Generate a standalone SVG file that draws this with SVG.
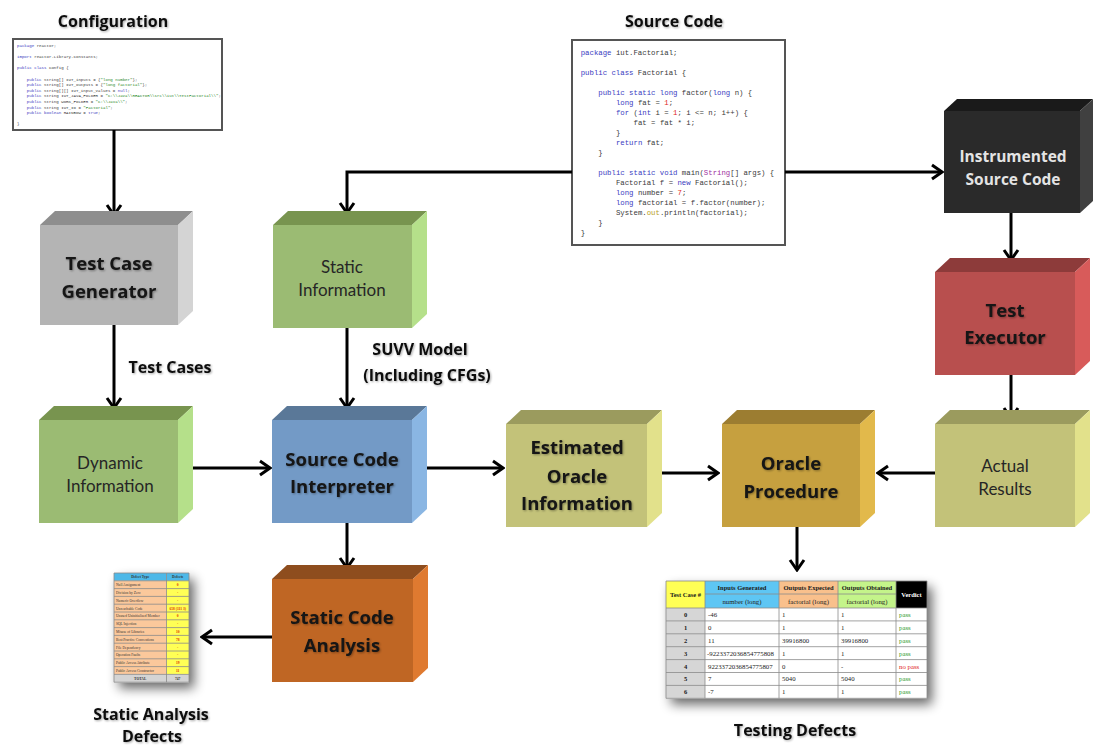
<svg xmlns="http://www.w3.org/2000/svg" width="1093" height="746" viewBox="0 0 1093 746">
  <style>
    .lbl{font-family:"Open Sans","Liberation Sans",sans-serif;font-weight:700;font-size:18.5px;fill:#141414;text-anchor:middle}
    .lblr{font-family:Lato,"Open Sans","Liberation Sans",sans-serif;font-weight:400;font-size:17px;fill:#262626;text-anchor:middle}
    .ttl{font-family:"Open Sans","Liberation Sans",sans-serif;font-weight:700;font-size:16px;fill:#111;text-anchor:middle}
    .edge{fill:none;stroke:#000;stroke-width:3;marker-end:url(#arr)}
    .codebox{fill:#fff;stroke:#555;stroke-width:2}
    .code{font-family:"Liberation Mono",monospace;font-size:7.33px;fill:#3a3a3a}
    .cfg{font-family:"Liberation Mono",monospace;font-size:4.1px;fill:#3a3a3a}
    .kw{fill:#3b3bbf}
    .num{fill:#e0281e}
    .str{fill:#2a8a2a}
    .typ{fill:#a030a0}
    .fld{fill:#b8a020}
    .gray .f{fill:#b4b4b4}.gray .t{fill:#8e8e8e}.gray .s{fill:#d4d4d4}
    .green .f{fill:#9bbb73}.green .t{fill:#78944f}.green .s{fill:#b5e08a}
    .blue .f{fill:#739ac6}.blue .t{fill:#5a7898}.blue .s{fill:#8ab6e3}
    .olive .f{fill:#c3c279}.olive .t{fill:#9b9b5e}.olive .s{fill:#e2e18b}
    .gold .f{fill:#c6a03f}.gold .t{fill:#9c7d31}.gold .s{fill:#e2b94b}
    .red .f{fill:#b84f4e}.red .t{fill:#8d3b3a}.red .s{fill:#d85b5a}
    .orange .f{fill:#bf6624}.orange .t{fill:#8e4d1e}.orange .s{fill:#df7a30}
    .black .f{fill:#2a2a2a}.black .t{fill:#1a1a1a}.black .s{fill:#404040}
    .tb{font-family:"Liberation Serif",serif;font-size:6.8px;fill:#222}
    .tbh{font-family:"Liberation Serif",serif;font-size:6.5px;font-weight:700;fill:#1a1a1a;text-anchor:middle}
    .grid{stroke:#8a8a8a;stroke-width:0.8;fill:none}
    .sa{font-family:"Liberation Serif",serif;font-size:3.6px;fill:#333}
    .sav{font-family:"Liberation Serif",serif;font-size:3.6px;fill:#e03000;text-anchor:middle;font-weight:700}
    .pass{fill:#2a9a2a}
    .nopass{fill:#e02020}
  </style>
  <defs>
    <marker id="arr" viewBox="-13 -9 15 18" markerWidth="15" markerHeight="18" refX="0" refY="0" orient="auto" markerUnits="userSpaceOnUse">
      <path d="M-10,-7 L0,0 L-10,7" fill="none" stroke="#000" stroke-width="3"/>
    </marker>
    <!-- soft text shadow for bold captions -->
    <filter id="tshadow" x="-10%" y="-30%" width="120%" height="160%">
      <feGaussianBlur in="SourceAlpha" stdDeviation="1.2"/>
      <feOffset dx="1" dy="1"/>
      <feComponentTransfer><feFuncA type="linear" slope="0.35"/></feComponentTransfer>
      <feMerge><feMergeNode/><feMergeNode in="SourceGraphic"/></feMerge>
    </filter>
    <filter id="shadow" x="-40%" y="-25%" width="190%" height="160%">
      <feGaussianBlur in="SourceAlpha" stdDeviation="6"/>
      <feOffset dx="5" dy="6"/>
      <feComponentTransfer><feFuncA type="linear" slope="0.6"/></feComponentTransfer>
      <feMerge><feMergeNode/><feMergeNode in="SourceGraphic"/></feMerge>
    </filter>
  </defs>

  <rect width="1093" height="746" fill="#fff"/>

  <!-- configuration source -->
  <g id="configuration">
    <text class="ttl" x="113" y="27" filter="url(#tshadow)">Configuration</text>
    <rect class="codebox" x="13" y="39" width="209" height="91"/>
    <text class="cfg" x="17" y="47"><tspan class="kw">package</tspan> reactor;</text>
    <text class="cfg" x="17" y="58.2"><tspan class="kw">import</tspan> reactor.Library.Constants;</text>
    <text class="cfg" x="17" y="69.4"><tspan class="kw">public class</tspan> Config {</text>
    <text class="cfg" x="26.8" y="80.6"><tspan class="kw">public</tspan> String[] IUT_inputs = {<tspan class="str">"long number"</tspan>};</text>
    <text class="cfg" x="26.8" y="86.2"><tspan class="kw">public</tspan> String[] IUT_outputs = {<tspan class="str">"long factorial"</tspan>};</text>
    <text class="cfg" x="26.8" y="91.8"><tspan class="kw">public</tspan> String[][] IUT_input_values = <tspan class="kw">null</tspan>;</text>
    <text class="cfg" x="26.8" y="97.4"><tspan class="kw">public</tspan> String IUT_JAVA_FOLDER = <tspan class="str">"C:\\Java\\REACTOR\\src\\iut\\TestFactorial\\"</tspan>;</text>
    <text class="cfg" x="26.8" y="103"><tspan class="kw">public</tspan> String WORK_FOLDER = <tspan class="str">"C:\\Java\\"</tspan>;</text>
    <text class="cfg" x="26.8" y="108.6"><tspan class="kw">public</tspan> String IUT_ID = <tspan class="str">"Factorial"</tspan>;</text>
    <text class="cfg" x="26.8" y="114.2"><tspan class="kw">public boolean</tspan> RAINBOW = <tspan class="kw">true</tspan>;</text>
    <text class="cfg" x="17" y="125.4">}</text>
  </g>

  <!-- program under test -->
  <g id="source-code">
    <text class="ttl" x="674" y="27" filter="url(#tshadow)">Source Code</text>
    <rect class="codebox" x="572" y="40" width="213" height="205"/>
    <text class="code" x="580.7" y="54.5"><tspan class="kw">package</tspan> iut.Factorial;</text>
    <text class="code" x="580.7" y="74.5"><tspan class="kw">public class</tspan> Factorial {</text>
    <text class="code" x="598.3" y="94.5"><tspan class="kw">public static long</tspan> factor(<tspan class="kw">long</tspan> n) {</text>
    <text class="code" x="615.9" y="104.5"><tspan class="kw">long</tspan> fat = <tspan class="num">1</tspan>;</text>
    <text class="code" x="615.9" y="114.5"><tspan class="kw">for</tspan> (<tspan class="kw">int</tspan> i = <tspan class="num">1</tspan>; i &lt;= n; i++) {</text>
    <text class="code" x="633.5" y="124.5">fat = fat * i;</text>
    <text class="code" x="615.9" y="134.5">}</text>
    <text class="code" x="615.9" y="144.5"><tspan class="kw">return</tspan> fat;</text>
    <text class="code" x="598.3" y="154.5">}</text>
    <text class="code" x="598.3" y="174.5"><tspan class="kw">public static void</tspan> main(<tspan class="typ">String</tspan>[] args) {</text>
    <text class="code" x="615.9" y="184.5">Factorial f = <tspan class="kw">new</tspan> Factorial();</text>
    <text class="code" x="615.9" y="194.5"><tspan class="kw">long</tspan> number = <tspan class="num">7</tspan>;</text>
    <text class="code" x="615.9" y="204.5"><tspan class="kw">long</tspan> factorial = f.factor(number);</text>
    <text class="code" x="615.9" y="214.5">System.<tspan class="fld">out</tspan>.println(factorial);</text>
    <text class="code" x="598.3" y="224.5">}</text>
    <text class="code" x="580.7" y="234.5">}</text>
  </g>

  <!-- connectors -->
  <g id="connectors">
    <path class="edge" d="M114,130 V215"/>
    <path class="edge" d="M114,325 V408"/>
    <path class="edge" d="M572,172 H347 V213"/>
    <path class="edge" d="M785,172 H942"/>
    <path class="edge" d="M347,328 V408"/>
    <path class="edge" d="M190,468 H270"/>
    <path class="edge" d="M424,468 H503"/>
    <path class="edge" d="M657,473 H718"/>
    <path class="edge" d="M935,473 H878"/>
    <path class="edge" d="M1011,213 V260"/>
    <path class="edge" d="M1011,375 V418"/>
    <path class="edge" d="M347,523 V568"/>
    <path class="edge" d="M272,637 H202"/>
    <path class="edge" d="M797,527 V570"/>
    <text class="ttl" x="170" y="373" filter="url(#tshadow)">Test Cases</text>
    <text class="ttl" x="420" y="355" filter="url(#tshadow)">SUVV Model</text>
    <text class="ttl" x="427" y="381" filter="url(#tshadow)">(Including CFGs)</text>
  </g>

  <g id="test-case-generator" class="gray">
    <polygon class="t" points="40,225 55,211 193,211 178,225"/>
    <polygon class="s" points="178,225 193,211 193,311 178,325"/>
    <rect class="f" x="40" y="225" width="138" height="100"/>
    <text class="lbl" x="109" y="270" filter="url(#tshadow)">Test Case</text>
    <text class="lbl" x="109" y="298" filter="url(#tshadow)">Generator</text>
  </g>

  <g id="static-information" class="green">
    <polygon class="t" points="273,225 288,211 427,211 412,225"/>
    <polygon class="s" points="412,225 427,211 427,314 412,328"/>
    <rect class="f" x="273" y="225" width="139" height="103"/>
    <text class="lblr" x="342" y="273">Static</text>
    <text class="lblr" x="342" y="296">Information</text>
  </g>

  <g id="dynamic-information" class="green">
    <polygon class="t" points="39,420 54,406 193,406 178,420"/>
    <polygon class="s" points="178,420 193,406 193,509 178,523"/>
    <rect class="f" x="39" y="420" width="139" height="103"/>
    <text class="lblr" x="110" y="469">Dynamic</text>
    <text class="lblr" x="110" y="492">Information</text>
  </g>

  <g id="source-code-interpreter" class="blue">
    <polygon class="t" points="272,420 287,406 427,406 412,420"/>
    <polygon class="s" points="412,420 427,406 427,509 412,523"/>
    <rect class="f" x="272" y="420" width="140" height="103"/>
    <text class="lbl" x="342" y="466" filter="url(#tshadow)">Source Code</text>
    <text class="lbl" x="342" y="493" filter="url(#tshadow)">Interpreter</text>
  </g>

  <g id="estimated-oracle-information" class="olive">
    <polygon class="t" points="506,424 521,410 662,410 647,424"/>
    <polygon class="s" points="647,424 662,410 662,513 647,527"/>
    <rect class="f" x="506" y="424" width="141" height="103"/>
    <text class="lbl" x="577" y="454" filter="url(#tshadow)">Estimated</text>
    <text class="lbl" x="577" y="483" filter="url(#tshadow)">Oracle</text>
    <text class="lbl" x="577" y="510" filter="url(#tshadow)">Information</text>
  </g>

  <g id="oracle-procedure" class="gold">
    <polygon class="t" points="722,424 737,410 875,410 860,424"/>
    <polygon class="s" points="860,424 875,410 875,513 860,527"/>
    <rect class="f" x="722" y="424" width="138" height="103"/>
    <text class="lbl" x="791" y="470" filter="url(#tshadow)">Oracle</text>
    <text class="lbl" x="791" y="498" filter="url(#tshadow)">Procedure</text>
  </g>

  <g id="actual-results" class="olive">
    <polygon class="t" points="935,424 950,410 1090,410 1075,424"/>
    <polygon class="s" points="1075,424 1090,410 1090,513 1075,527"/>
    <rect class="f" x="935" y="424" width="140" height="103"/>
    <text class="lblr" x="1005" y="472">Actual</text>
    <text class="lblr" x="1005" y="495">Results</text>
  </g>

  <g id="test-executor" class="red">
    <polygon class="t" points="935,272 950,258 1090,258 1075,272"/>
    <polygon class="s" points="1075,272 1090,258 1090,361 1075,375"/>
    <rect class="f" x="935" y="272" width="140" height="103"/>
    <text class="lbl" x="1005" y="317" filter="url(#tshadow)">Test</text>
    <text class="lbl" x="1005" y="344" filter="url(#tshadow)">Executor</text>
  </g>

  <g id="instrumented-source-code" class="black">
    <polygon class="t" points="944,111 957,99 1093,99 1080,111"/>
    <polygon class="s" points="1080,111 1093,99 1093,201 1080,213"/>
    <rect class="f" x="944" y="111" width="136" height="102"/>
    <text class="lbl" x="1013" y="162" style="fill:#e4e4e4;font-size:15.5px">Instrumented</text>
    <text class="lbl" x="1013" y="185" style="fill:#e4e4e4;font-size:15.5px">Source Code</text>
  </g>

  <g id="static-code-analysis" class="orange">
    <polygon class="t" points="272,579 287,565 428,565 413,579"/>
    <polygon class="s" points="413,579 428,565 428,668 413,682"/>
    <rect class="f" x="272" y="579" width="141" height="103"/>
    <text class="lbl" x="342" y="624" filter="url(#tshadow)">Static Code</text>
    <text class="lbl" x="342" y="652" filter="url(#tshadow)">Analysis</text>
  </g>

  <!-- defect summary table -->
  <g id="static-analysis-defects">
    <rect x="114" y="573" width="75" height="109.2" fill="#fff" filter="url(#shadow)"/>
    <rect x="114" y="573" width="52.5" height="7.8" fill="#4db8e8"/>
    <rect x="166.5" y="573" width="22.5" height="7.8" fill="#4db8e8"/>
    <rect x="114" y="580.8" width="52.5" height="93.6" fill="#fbc89b"/>
    <rect x="166.5" y="580.8" width="22.5" height="93.6" fill="#ffff55"/>
    <rect x="114" y="674.4" width="75" height="7.8" fill="#d4d4d4"/>
    <path class="grid" d="M114,573 H189 V682.2 H114 Z M166.5,573 V682.2 M114,580.8 H189 M114,588.6 H189 M114,596.4 H189 M114,604.2 H189 M114,612 H189 M114,619.8 H189 M114,627.6 H189 M114,635.4 H189 M114,643.2 H189 M114,651 H189 M114,658.8 H189 M114,666.6 H189 M114,674.4 H189" stroke-width="0.5"/>
    <text class="sa" x="140.2" y="578.3" text-anchor="middle" font-weight="700">Defect Type</text>
    <text class="sa" x="177.7" y="578.3" text-anchor="middle" font-weight="700">Defects</text>
    <text class="sa" x="116" y="586.1">Null Assignment</text>
    <text class="sa" x="116" y="593.9">Division by Zero</text>
    <text class="sa" x="116" y="601.7">Numeric Overflow</text>
    <text class="sa" x="116" y="609.5">Unreachable Code</text>
    <text class="sa" x="116" y="617.3">Unused Uninitialized Member</text>
    <text class="sa" x="116" y="625.1">SQL Injection</text>
    <text class="sa" x="116" y="632.9">Misuse of Libraries</text>
    <text class="sa" x="116" y="640.7">Best Practice Conventions</text>
    <text class="sa" x="116" y="648.5">File Dependency</text>
    <text class="sa" x="116" y="656.3">Operation Faults</text>
    <text class="sa" x="116" y="664.1">Public Access Attribute</text>
    <text class="sa" x="116" y="671.9">Public Access Constructor</text>
    <text class="sa" x="140.2" y="679.7" text-anchor="middle" font-weight="700">TOTAL</text>
    <text class="sav" x="177.7" y="586.1">0</text>
    <text class="sav" x="177.7" y="593.9">-</text>
    <text class="sav" x="177.7" y="601.7">-</text>
    <text class="sav" x="177.7" y="609.5">658 (111 3)</text>
    <text class="sav" x="177.7" y="617.3">0</text>
    <text class="sav" x="177.7" y="625.1">-</text>
    <text class="sav" x="177.7" y="632.9">10</text>
    <text class="sav" x="177.7" y="640.7">78</text>
    <text class="sav" x="177.7" y="648.5">-</text>
    <text class="sav" x="177.7" y="656.3">-</text>
    <text class="sav" x="177.7" y="664.1">19</text>
    <text class="sav" x="177.7" y="671.9">11</text>
    <text class="sa" x="177.7" y="679.7" text-anchor="middle" font-weight="700">747</text>
    <text class="ttl" x="151" y="720" filter="url(#tshadow)">Static Analysis</text>
    <text class="ttl" x="152" y="742" filter="url(#tshadow)">Defects</text>
  </g>

  <!-- test verdict table -->
  <g id="testing-defects">
    <rect x="666" y="581" width="261" height="117.3" fill="#fff" filter="url(#shadow)"/>
    <rect x="666" y="581" width="39" height="27" fill="#ffff55"/>
    <rect x="705" y="581" width="74" height="27" fill="#5ec6f4"/>
    <rect x="779" y="581" width="59" height="27" fill="#f9c08c"/>
    <rect x="838" y="581" width="58" height="27" fill="#c4f48a"/>
    <rect x="896" y="581" width="31" height="27" fill="#000"/>
    <rect x="666" y="608" width="39" height="90.3" fill="#d6d6d6"/>
    <path class="grid" d="M666,581 H927 V698.3 H666 Z M705,581 V698.3 M779,581 V698.3 M838,581 V698.3 M896,581 V698.3 M705,594 H896 M666,608 H927 M666,620.9 H927 M666,633.8 H927 M666,646.7 H927 M666,659.6 H927 M666,672.5 H927 M666,685.4 H927"/>
    <text class="tbh" x="685.5" y="597">Test Case #</text>
    <text class="tbh" x="742" y="590">Inputs Generated</text>
    <text class="tbh" x="808.5" y="590">Outputs Expected</text>
    <text class="tbh" x="867" y="590">Outputs Obtained</text>
    <text class="tbh" x="911.5" y="597" style="fill:#fff">Verdict</text>
    <text class="tb" x="742" y="603.5" text-anchor="middle">number (long)</text>
    <text class="tb" x="808.5" y="603.5" text-anchor="middle">factorial (long)</text>
    <text class="tb" x="867" y="603.5" text-anchor="middle">factorial (long)</text>

    <text class="tbh" x="685.5" y="616.9">0</text>
    <text class="tb" x="708" y="616.9">-46</text>
    <text class="tb" x="782" y="616.9">1</text>
    <text class="tb" x="841" y="616.9">1</text>
    <text class="tb pass" x="899" y="616.9">pass</text>

    <text class="tbh" x="685.5" y="629.8">1</text>
    <text class="tb" x="708" y="629.8">0</text>
    <text class="tb" x="782" y="629.8">1</text>
    <text class="tb" x="841" y="629.8">1</text>
    <text class="tb pass" x="899" y="629.8">pass</text>

    <text class="tbh" x="685.5" y="642.7">2</text>
    <text class="tb" x="708" y="642.7">11</text>
    <text class="tb" x="782" y="642.7">39916800</text>
    <text class="tb" x="841" y="642.7">39916800</text>
    <text class="tb pass" x="899" y="642.7">pass</text>

    <text class="tbh" x="685.5" y="655.6">3</text>
    <text class="tb" x="707" y="655.6">-9223372036854775808</text>
    <text class="tb" x="782" y="655.6">1</text>
    <text class="tb" x="841" y="655.6">1</text>
    <text class="tb pass" x="899" y="655.6">pass</text>

    <text class="tbh" x="685.5" y="668.5">4</text>
    <text class="tb" x="708" y="668.5">9223372036854775807</text>
    <text class="tb" x="782" y="668.5">0</text>
    <text class="tb" x="841" y="668.5">-</text>
    <text class="tb nopass" x="899" y="668.5">no pass</text>

    <text class="tbh" x="685.5" y="681.4">5</text>
    <text class="tb" x="708" y="681.4">7</text>
    <text class="tb" x="782" y="681.4">5040</text>
    <text class="tb" x="841" y="681.4">5040</text>
    <text class="tb pass" x="899" y="681.4">pass</text>

    <text class="tbh" x="685.5" y="694.3">6</text>
    <text class="tb" x="708" y="694.3">-7</text>
    <text class="tb" x="782" y="694.3">1</text>
    <text class="tb" x="841" y="694.3">1</text>
    <text class="tb pass" x="899" y="694.3">pass</text>

    <text class="ttl" x="795" y="736" filter="url(#tshadow)">Testing Defects</text>
  </g>
</svg>
